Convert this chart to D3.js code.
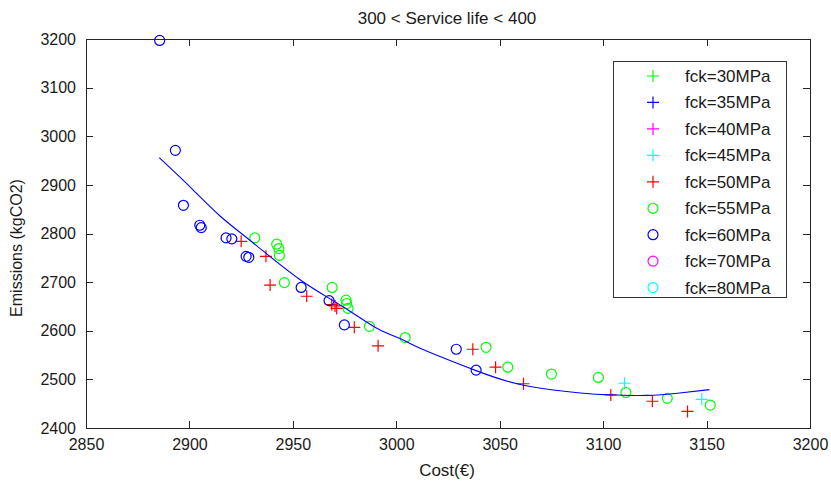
<!DOCTYPE html>
<html>

<head>
    <meta charset="utf-8">
    <title>service life 300-400</title>
    <script src="https://d3js.org/d3.v7.min.js"></script>
    <style>
        body {
            margin: 0;
            background: white;
        }

        text {
            font-family: "Liberation Sans", Arial, sans-serif;
            fill: #1a1a1a;
        }

        .axis path,
        .axis line {
            stroke: #262626;
            shape-rendering: crispEdges;
        }
    </style>
</head>

<body>
    <div id="chart"></div>
    <script>
        // values: [cost, emissions]
        const fck30 = [];
        const fck35 = [];
        const fck40 = [];
        const fck45 = [[3110.3, 2492], [3147.7, 2459]];
        const fck50 = [
            [2925.0, 2784], [2937.0, 2753], [2939.0, 2694], [2956.7, 2671],
            [2968.8, 2654], [2970.4, 2651], [2971.2, 2646], [2979.7, 2607],
            [2991.2, 2569], [3037.0, 2562], [3048.0, 2525], [3061.5, 2491],
            [3103.7, 2468], [3123.8, 2455], [3140.8, 2434]
        ];
        const fck55 = [
            [2931.6, 2791], [2942.2, 2778], [2943.2, 2769], [2943.5, 2755],
            [2945.9, 2699], [2969.0, 2689], [2975.7, 2663], [2976.0, 2656],
            [2976.7, 2646], [2987.0, 2609], [3004.3, 2586], [3043.4, 2566],
            [3053.9, 2525], [3075.0, 2511], [3097.7, 2504], [3111.0, 2473],
            [3131.0, 2461], [3151.8, 2447]
        ];
        const fck60 = [
            [2885.6, 3197], [2893.2, 2971], [2897.1, 2858], [2905.0, 2817],
            [2905.7, 2812], [2917.7, 2791], [2920.5, 2789], [2927.4, 2753],
            [2928.7, 2751], [2954.0, 2689], [2967.5, 2662], [2974.9, 2612],
            [3029.0, 2562], [3038.6, 2519]
        ];
        const fck70 = [];
        const fck80 = [];

        // fitted trend line
        const fitLine = [
            [2885.4, 2956], [2901, 2893], [2914.8, 2836], [2931, 2780],
            [2953.5, 2705], [2974.4, 2649], [2990.6, 2605], [3001.8, 2584],
            [3011.5, 2564], [3038.6, 2518], [3061.5, 2488], [3089, 2472],
            [3105, 2468], [3121, 2467], [3137, 2472], [3151.4, 2479]
        ];

        const xTicks = [2850, 2900, 2950, 3000, 3050, 3100, 3150, 3200];
        const yTicks = [2400, 2500, 2600, 2700, 2800, 2900, 3000, 3100, 3200];

        const series = [
            { name: "fck=30MPa", data: fck30, color: "#00ff00", mark: "plus" },
            { name: "fck=35MPa", data: fck35, color: "#0000ff", mark: "plus" },
            { name: "fck=40MPa", data: fck40, color: "#ff00ff", mark: "plus" },
            { name: "fck=45MPa", data: fck45, color: "#00ffff", mark: "plus" },
            { name: "fck=50MPa", data: fck50, color: "#ff0000", mark: "plus" },
            { name: "fck=55MPa", data: fck55, color: "#00ff00", mark: "circle" },
            { name: "fck=60MPa", data: fck60, color: "#0000ff", mark: "circle" },
            { name: "fck=70MPa", data: fck70, color: "#ff00ff", mark: "circle" },
            { name: "fck=80MPa", data: fck80, color: "#00ffff", mark: "circle" }
        ];

        const W = 831, H = 484;
        const m = { left: 86, right: 810, top: 39, bottom: 428 };

        const svg = d3.select("#chart")
            .append("svg")
            .attr("width", W)
            .attr("height", H);

        const x = d3.scaleLinear().domain([2850, 3200]).range([m.left, m.right]);
        const y = d3.scaleLinear().domain([2400, 3200]).range([m.bottom, m.top]);

        // axes, ticks pointing inwards on all four sides
        svg.append("g")
            .attr("class", "axis")
            .attr("transform", `translate(0,${m.bottom})`)
            .call(d3.axisBottom(x).tickValues(xTicks).tickSizeInner(-7).tickSizeOuter(0).tickPadding(11).tickFormat(d3.format("d")))
            .call(g => g.selectAll("text").attr("font-size", 16));
        svg.append("g")
            .attr("class", "axis")
            .attr("transform", `translate(${m.left},0)`)
            .call(d3.axisLeft(y).tickValues(yTicks).tickSizeInner(-7).tickSizeOuter(0).tickPadding(10).tickFormat(d3.format("d")))
            .call(g => g.selectAll("text").attr("font-size", 16));
        svg.append("g")
            .attr("class", "axis")
            .attr("transform", `translate(0,${m.top})`)
            .call(d3.axisTop(x).tickValues(xTicks).tickSizeInner(-7).tickSizeOuter(0).tickFormat(""));
        svg.append("g")
            .attr("class", "axis")
            .attr("transform", `translate(${m.right},0)`)
            .call(d3.axisRight(y).tickValues(yTicks).tickSizeInner(-7).tickSizeOuter(0).tickFormat(""));
        svg.selectAll(".axis .domain").attr("stroke-width", 1.2);

        // labels
        svg.append("text")
            .attr("x", 447).attr("y", 24)
            .attr("text-anchor", "middle")
            .attr("font-size", 17)
            .text("300 < Service life < 400");
        svg.append("text")
            .attr("x", 447).attr("y", 476)
            .attr("text-anchor", "middle")
            .attr("font-size", 17)
            .text("Cost(€)");
        svg.append("text")
            .attr("transform", "translate(22,248) rotate(-90)")
            .attr("text-anchor", "middle")
            .attr("font-size", 16)
            .text("Emissions (kgCO2)");

        // markers
        function drawMark(g, mark, color) {
            if (mark === "plus") {
                g.append("path")
                    .attr("d", "M-6,0H6M0,-6V6")
                    .attr("stroke", color)
                    .attr("stroke-width", 1.2)
                    .attr("fill", "none");
            } else {
                g.append("circle")
                    .attr("r", 5)
                    .attr("stroke", color)
                    .attr("stroke-width", 1.2)
                    .attr("fill", "none");
            }
        }

        series.forEach(s => {
            svg.append("g")
                .selectAll("g")
                .data(s.data)
                .join("g")
                .attr("transform", d => `translate(${x(d[0])},${y(d[1])})`)
                .each(function () { drawMark(d3.select(this), s.mark, s.color); });
        });

        // fit line
        svg.append("path")
            .datum(fitLine)
            .attr("fill", "none")
            .attr("stroke", "#0000ff")
            .attr("stroke-width", 1.1)
            .attr("d", d3.line()
                .x(d => x(d[0]))
                .y(d => y(d[1]))
                .curve(d3.curveNatural));

        // legend
        const legend = svg.append("g");
        legend.append("rect")
            .attr("x", 613).attr("y", 61)
            .attr("width", 173).attr("height", 236)
            .attr("fill", "white")
            .attr("stroke", "#333")
            .attr("stroke-width", 1)
            .attr("shape-rendering", "crispEdges");
        series.forEach((s, i) => {
            const row = legend.append("g")
                .attr("transform", `translate(0,${76 + i * 26.45})`);
            drawMark(row.append("g").attr("transform", "translate(653,0)"), s.mark, s.color);
            row.append("text")
                .attr("x", 685).attr("y", 6)
                .attr("font-size", 17)
                .text(s.name);
        });
    </script>
</body>

</html>
